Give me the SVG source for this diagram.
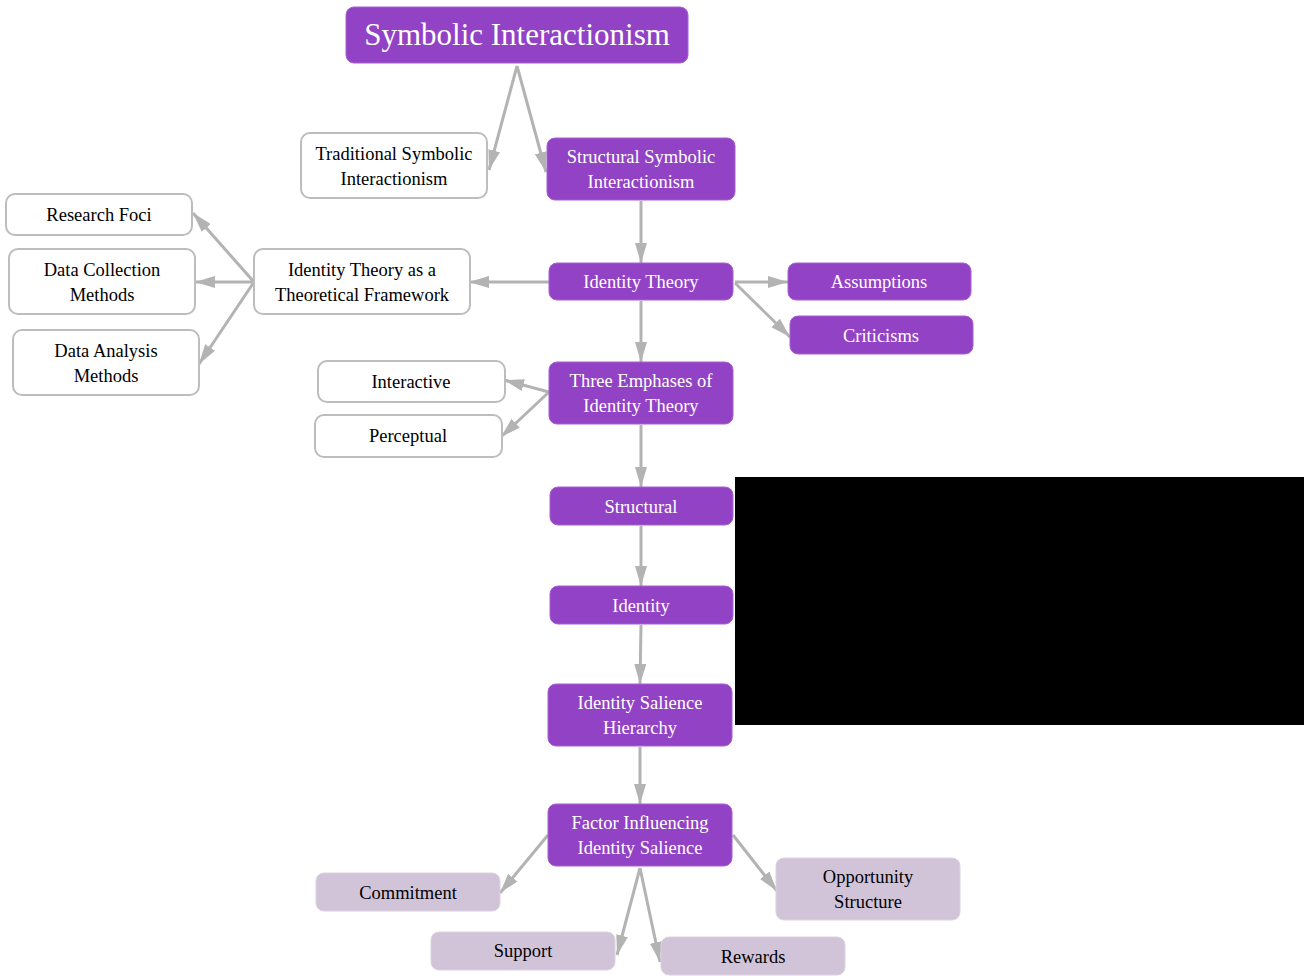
<svg xmlns="http://www.w3.org/2000/svg" width="1306" height="978" viewBox="0 0 1306 978">
  <style>
    .main rect { fill: #9242C4; stroke: #A860D2; stroke-width: 1; }
    .main text { fill: #FFFFFF; }
    .plain rect { fill: #FFFFFF; stroke: #BDBDBD; stroke-width: 2; }
    .plain text { fill: #000000; }
    .soft rect { fill: #D1C4D9; stroke: #DCD2E2; stroke-width: 1; }
    .soft text { fill: #000000; }
    text { font-family: "Liberation Serif", "Times New Roman", serif; font-size: 18.5px; text-anchor: middle; }
    .edges line { stroke: #B3B3B3; stroke-width: 3; marker-end: url(#arrow); }
  </style>
  <defs>
    <marker id="arrow" markerUnits="userSpaceOnUse" markerWidth="22" markerHeight="12" refX="20" refY="6" orient="auto">
      <path d="M0,0 L20,6 L0,12 Z" fill="#B3B3B3"/>
    </marker>
  </defs>
  <rect width="1306" height="978" fill="#FFFFFF"/>

  <g class="edges">
    <line x1="517" y1="66" x2="489" y2="170"/>
    <line x1="517" y1="66" x2="546" y2="172"/>
    <line x1="641" y1="201" x2="641" y2="263"/>
    <line x1="549" y1="282" x2="469" y2="282"/>
    <line x1="254" y1="282" x2="193" y2="213"/>
    <line x1="254" y1="282" x2="195" y2="282"/>
    <line x1="254" y1="282" x2="199" y2="364"/>
    <line x1="735" y1="282" x2="788" y2="282"/>
    <line x1="735" y1="283" x2="790" y2="337"/>
    <line x1="641" y1="301" x2="641" y2="362"/>
    <line x1="549" y1="392" x2="504" y2="380"/>
    <line x1="549" y1="392" x2="501" y2="437"/>
    <line x1="641" y1="425" x2="641" y2="487"/>
    <line x1="641" y1="526" x2="641" y2="586"/>
    <line x1="641" y1="625" x2="640" y2="684"/>
    <line x1="640" y1="747" x2="640" y2="804"/>
    <line x1="548" y1="835" x2="500" y2="893"/>
    <line x1="640" y1="868" x2="617" y2="955"/>
    <line x1="640" y1="868" x2="660" y2="962"/>
    <line x1="733" y1="835" x2="777" y2="891"/>
  </g>

  <g id="symbolic-interactionism" class="main">
    <rect x="346" y="7" width="342" height="56" rx="8"/>
    <text x="517" y="45" style="font-size:31px">Symbolic Interactionism</text>
  </g>
  <g id="traditional" class="plain">
    <rect x="301" y="133" width="186" height="65" rx="9"/>
    <text x="394" y="160">Traditional Symbolic</text>
    <text x="394" y="185">Interactionism</text>
  </g>
  <g id="structural-si" class="main">
    <rect x="547" y="138" width="188" height="62" rx="8"/>
    <text x="641" y="163">Structural Symbolic</text>
    <text x="641" y="188">Interactionism</text>
  </g>
  <g id="research-foci" class="plain">
    <rect x="6" y="194" width="186" height="41" rx="9"/>
    <text x="99" y="221">Research Foci</text>
  </g>
  <g id="data-collection" class="plain">
    <rect x="9" y="249" width="186" height="65" rx="9"/>
    <text x="102" y="276">Data Collection</text>
    <text x="102" y="301">Methods</text>
  </g>
  <g id="data-analysis" class="plain">
    <rect x="13" y="330" width="186" height="65" rx="9"/>
    <text x="106" y="357">Data Analysis</text>
    <text x="106" y="382">Methods</text>
  </g>
  <g id="framework" class="plain">
    <rect x="254" y="249" width="216" height="65" rx="9"/>
    <text x="362" y="276">Identity Theory as a</text>
    <text x="362" y="301">Theoretical Framework</text>
  </g>
  <g id="identity-theory" class="main">
    <rect x="549" y="263" width="184" height="37" rx="8"/>
    <text x="641" y="288">Identity Theory</text>
  </g>
  <g id="assumptions" class="main">
    <rect x="788" y="263" width="183" height="37" rx="8"/>
    <text x="879" y="288">Assumptions</text>
  </g>
  <g id="criticisms" class="main">
    <rect x="790" y="316" width="183" height="38" rx="8"/>
    <text x="881" y="342">Criticisms</text>
  </g>
  <g id="interactive" class="plain">
    <rect x="318" y="361" width="187" height="41" rx="9"/>
    <text x="411" y="388">Interactive</text>
  </g>
  <g id="perceptual" class="plain">
    <rect x="315" y="415" width="187" height="42" rx="9"/>
    <text x="408" y="442">Perceptual</text>
  </g>
  <g id="three-emphases" class="main">
    <rect x="549" y="362" width="184" height="62" rx="8"/>
    <text x="641" y="387">Three Emphases of</text>
    <text x="641" y="412">Identity Theory</text>
  </g>
  <g id="structural" class="main">
    <rect x="550" y="487" width="183" height="38" rx="8"/>
    <text x="641" y="513">Structural</text>
  </g>
  <g id="identity" class="main">
    <rect x="550" y="586" width="183" height="38" rx="8"/>
    <text x="641" y="612">Identity</text>
  </g>
  <g id="salience-hierarchy" class="main">
    <rect x="548" y="684" width="184" height="62" rx="8"/>
    <text x="640" y="709">Identity Salience</text>
    <text x="640" y="734">Hierarchy</text>
  </g>
  <g id="factor-influencing" class="main">
    <rect x="548" y="804" width="184" height="62" rx="8"/>
    <text x="640" y="829">Factor Influencing</text>
    <text x="640" y="854">Identity Salience</text>
  </g>
  <g id="commitment" class="soft">
    <rect x="316" y="873" width="184" height="38" rx="8"/>
    <text x="408" y="899">Commitment</text>
  </g>
  <g id="support" class="soft">
    <rect x="431" y="932" width="184" height="38" rx="8"/>
    <text x="523" y="957">Support</text>
  </g>
  <g id="rewards" class="soft">
    <rect x="661" y="937" width="184" height="38" rx="8"/>
    <text x="753" y="963">Rewards</text>
  </g>
  <g id="opportunity-structure" class="soft">
    <rect x="776" y="858" width="184" height="62" rx="8"/>
    <text x="868" y="883">Opportunity</text>
    <text x="868" y="908">Structure</text>
  </g>

  <!-- solid black block on the right -->
  <rect x="735" y="477" width="569" height="248" fill="#000000"/>
</svg>
